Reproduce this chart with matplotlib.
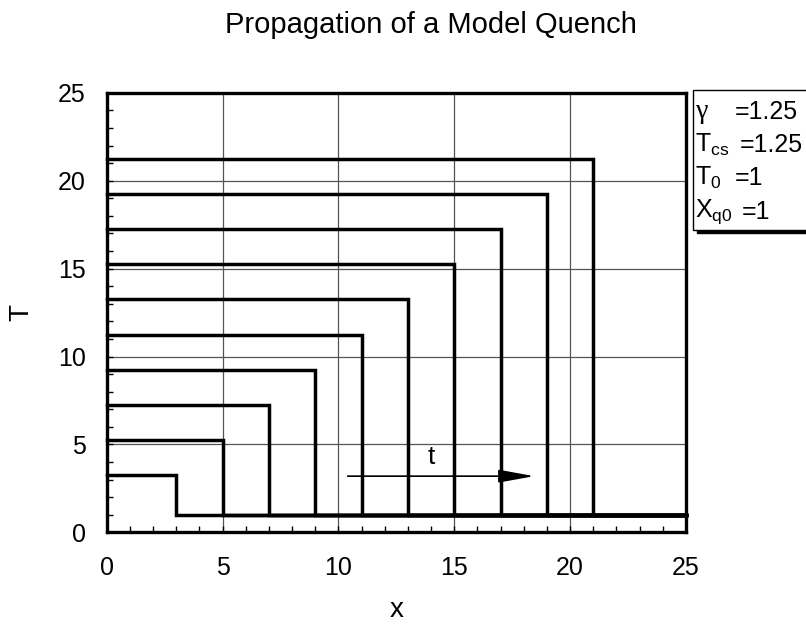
import matplotlib
matplotlib.use("Agg")
import matplotlib.pyplot as plt
from matplotlib.patches import Rectangle, FancyArrowPatch
from matplotlib.ticker import MultipleLocator

plt.rcParams['font.family'] = ['Liberation Sans', 'DejaVu Sans']
plt.rcParams['mathtext.fontset'] = 'custom'
plt.rcParams['mathtext.rm'] = 'Liberation Sans'
plt.rcParams['mathtext.it'] = 'Liberation Sans'

# quench front positions and peak temperatures, one step curve each
x_front = [3, 5, 7, 9, 11, 13, 15, 17, 19, 21]
T_peak = [3.25, 5.25, 7.25, 9.25, 11.25, 13.25, 15.25, 17.25, 19.25, 21.25]
T_base = 1.0
x_max = 25

legend_lines = ["γ", r"T$_{\mathregular{cs}}$", r"T$_{\mathregular{0}}$", r"X$_{\mathregular{q0}}$"]
legend_vals = ["=1.25", "=1.25", "=1", "=1"]

fig = plt.figure(figsize=(8.06, 6.34), dpi=100)
ax = fig.add_axes([0.1324, 0.1602, 0.7186, 0.6935])

for xq, tp in zip(x_front, T_peak):
    ax.plot([0, xq, xq, x_max], [tp, tp, T_base, T_base], color="black", lw=2.5,
            solid_joinstyle="miter", zorder=3, clip_on=False)

ax.set_xlim(0, 25)
ax.set_ylim(0, 25)
ax.xaxis.set_major_locator(MultipleLocator(5))
ax.yaxis.set_major_locator(MultipleLocator(5))
ax.xaxis.set_minor_locator(MultipleLocator(1))
ax.yaxis.set_minor_locator(MultipleLocator(1))
ax.tick_params(which="both", direction="in", length=4, width=1, labelsize=18)
ax.tick_params(axis="x", pad=17)
ax.tick_params(axis="y", pad=15)
ax.grid(True, which="major", color="#555555", lw=0.9)
for sp in ax.spines.values():
    sp.set_linewidth(2.4)

ax.set_xlabel("x", fontsize=20, labelpad=12)
ax.set_ylabel("T", fontsize=20, labelpad=17)
fig.text(431 / 806, 1 - 25 / 634, "Propagation of a Model Quench", ha="center", va="center", fontsize=21)

# arrow showing time direction
arr = FancyArrowPatch((10.4, 3.2), (18.45, 3.2), arrowstyle="-|>,head_length=1.1,head_width=0.2",
                      mutation_scale=20, color="black", lw=1.2, shrinkA=0, shrinkB=0, zorder=4)
ax.add_patch(arr)
ax.text(14.0, 3.6, "t", fontsize=19, ha="center", va="bottom")

# parameter box with shadow
fig.patches.append(Rectangle((697 / 806, 1 - 233 / 634), 0.2, 140 / 634, transform=fig.transFigure,
                             facecolor="black", edgecolor="black", zorder=5))
fig.patches.append(Rectangle((693 / 806, 1 - 230 / 634), 0.2, 140 / 634, transform=fig.transFigure,
                             facecolor="white", edgecolor="black", lw=1, zorder=6))
ys = [112, 145, 178, 212]
val_x = [735, 740, 735, 742]
for lab, val, y, vx in zip(legend_lines, legend_vals, ys, val_x):
    if lab == "γ":
        fig.text(696 / 806, 1 - y / 634, lab, fontsize=20, va="center", ha="left", zorder=7,
                 family=["Liberation Serif"])
    else:
        fig.text(695 / 806, 1 - y / 634, lab, fontsize=18, va="center", ha="left", zorder=7)
    fig.text(vx / 806, 1 - y / 634, val, fontsize=18, va="center", ha="left", zorder=7)

fig.savefig("out.png", dpi=100)
